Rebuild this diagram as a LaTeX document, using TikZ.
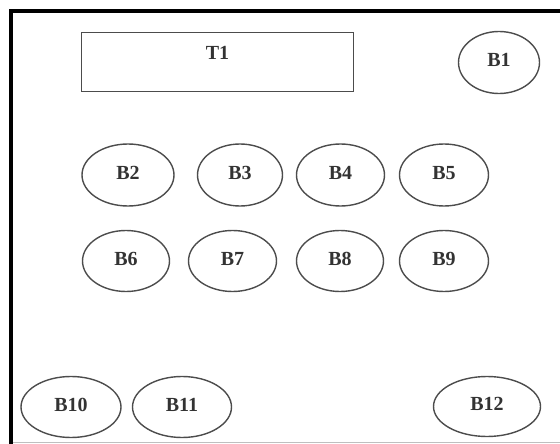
\documentclass[tikz,border=0pt]{standalone}
\usepackage{fontspec}
\setmainfont{Liberation Serif}
\usetikzlibrary{shapes.geometric}
\tikzset{
  seat/.style={ellipse, draw=black!70, line width=1.4pt, inner sep=0pt, text depth=5pt,
    font=\fontsize{20}{24}\selectfont\bfseries, text=black!80},
  tablebox/.style={rectangle, draw=black!70, line width=1.6pt, inner sep=0pt,
    minimum width=272pt, minimum height=59pt, text depth=18pt,
    font=\fontsize{20}{24}\selectfont\bfseries, text=black!80},
  wall/.style={line width=3.5pt, black},
  floorline/.style={line width=0.9pt, black!25}
}
\begin{document}
\begin{tikzpicture}[x=1pt,y=-1pt]
\useasboundingbox (0,0) rectangle (560,444);
\coordinate (tl) at (11,11);
\coordinate (tr) at (560,11);
\coordinate (bl) at (11,444);
\coordinate (fl) at (13,442);
\coordinate (fr) at (560,442);
\draw[floorline] (fl) -- (fr);
\draw[wall] (tr) -- (tl) -- (bl);
\node[tablebox] (T1) at (217.5,62) {T1};
\node[seat, minimum width=81pt, minimum height=62pt] (B1) at (499,62.5) {B1};
\node[seat, minimum width=92pt, minimum height=62pt] (B2) at (128,175) {B2};
\node[seat, minimum width=85pt, minimum height=62pt] (B3) at (240,175) {B3};
\node[seat, minimum width=88pt, minimum height=62pt] (B4) at (340.5,175) {B4};
\node[seat, minimum width=89pt, minimum height=62pt] (B5) at (444,175) {B5};
\node[seat, minimum width=87pt, minimum height=61pt] (B6) at (126,261) {B6};
\node[seat, minimum width=88pt, minimum height=61pt] (B7) at (232.5,261) {B7};
\node[seat, minimum width=87pt, minimum height=61pt] (B8) at (340,261) {B8};
\node[seat, minimum width=89pt, minimum height=61pt] (B9) at (444,261) {B9};
\node[seat, minimum width=100pt, minimum height=61pt] (B10) at (71,407) {B10};
\node[seat, minimum width=99pt, minimum height=61pt] (B11) at (182,407) {B11};
\node[seat, minimum width=107pt, minimum height=60pt] (B12) at (487,406.5) {B12};
\end{tikzpicture}
\end{document}
